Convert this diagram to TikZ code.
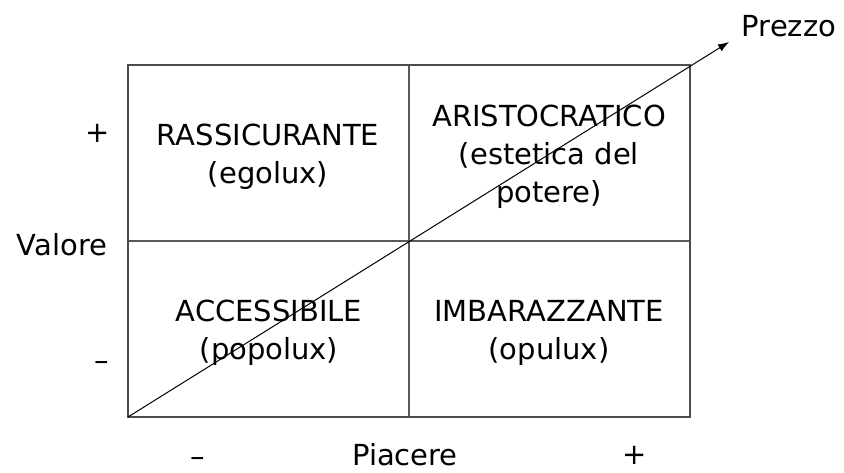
\documentclass[tikz,border=0pt]{standalone}
\usepackage{fontspec}
\setmainfont{DejaVu Sans}
\usetikzlibrary{arrows.meta}
\begin{document}
\begin{tikzpicture}[x=1pt,y=-1pt,
    lbl/.style={font=\fontsize{29}{38}\selectfont, inner sep=0pt},
    cell/.style={lbl, align=center},
    grid/.style={draw=black!65, line width=1.5pt},
    frame/.style={draw=black!70, line width=2pt}]
  \useasboundingbox (0,0) rectangle (844,473);

  % quadrants
  \draw [grid] (409,65) -- (409,417);
  \draw [grid] (128,241) -- (690,241);
  \draw [frame] (128,65) rectangle (690,417);

  \node [cell] (rassicurante) at (268,157) {RASSICURANTE\\(egolux)};
  \node [cell] (aristocratico) at (549,157) {ARISTOCRATICO\\(estetica del\\potere)};
  \node [cell] (accessibile) at (269,333) {ACCESSIBILE\\(popolux)};
  \node [cell] (imbarazzante) at (549,333) {IMBARAZZANTE\\(opulux)};

  % price diagonal
  \coordinate (origin) at (128,417);
  \coordinate (tip) at (729,42);
  \draw [line width=1pt, -{Latex[length=11pt,width=8pt]}] (origin) -- (tip);
  \node [lbl, anchor=base] (prezzo) at (789,37) {Prezzo};

  % axes labels
  \node [lbl] (vplus) at (98,133) {+};
  \node [lbl] (valore) at (62,245) {Valore};
  \node [lbl] (vminus) at (102,366) {–};
  \node [lbl] (pminus) at (198,462) {–};
  \node [lbl, anchor=base] (piacere) at (405,465) {Piacere};
  \node [lbl] (pplus) at (635,455) {+};
\end{tikzpicture}
\end{document}
